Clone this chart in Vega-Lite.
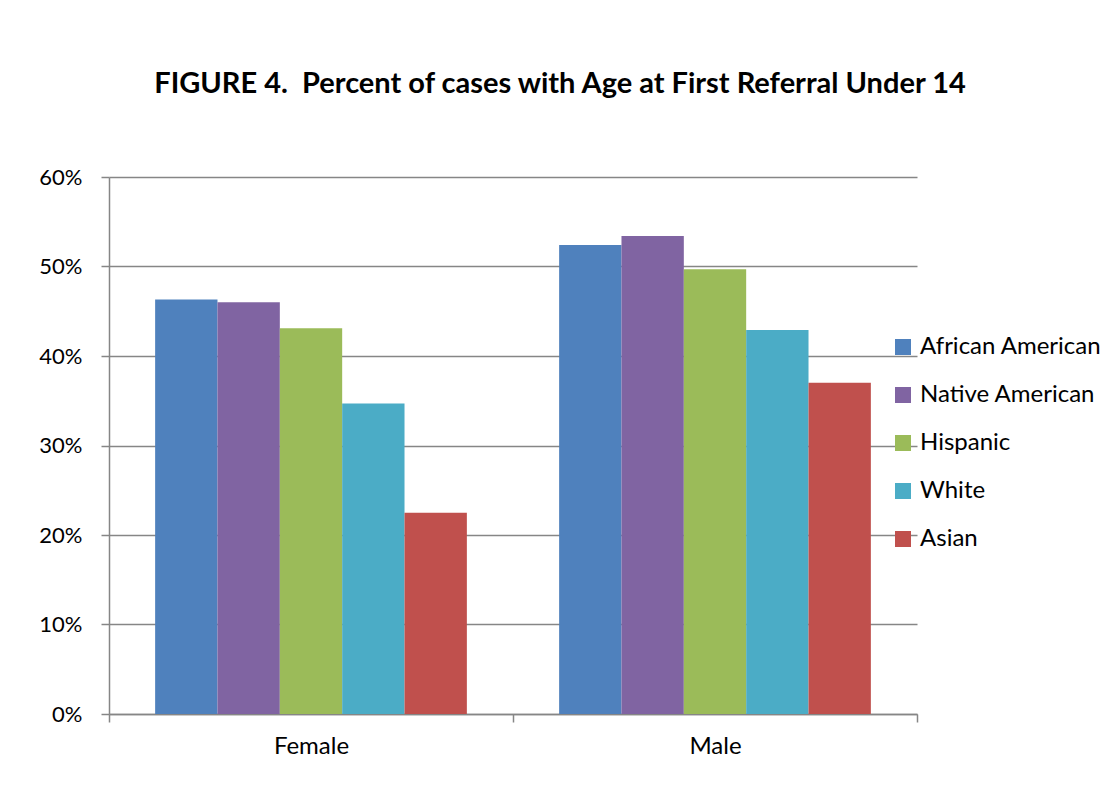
{
  "$schema": "https://vega.github.io/schema/vega-lite/v6.json",
  "autosize": "none",
  "width": 808,
  "height": 537,
  "padding": {"left": 109, "top": 177, "right": 184, "bottom": 98},
  "background": "white",
  "title": {
    "text": "FIGURE 4.\u00a0 Percent of cases with Age at First Referral Under 14",
    "anchor": "middle",
    "frame": "group",
    "dx": 47,
    "offset": 44,
    "baseline": "alphabetic",
    "font": "Lato",
    "fontSize": 29,
    "fontWeight": "bold",
    "color": "#000000"
  },
  "data": {
    "values": [
      {"gender": "Female", "group": "African American", "pct": 0.463},
      {"gender": "Female", "group": "Native American", "pct": 0.460},
      {"gender": "Female", "group": "Hispanic", "pct": 0.431},
      {"gender": "Female", "group": "White", "pct": 0.347},
      {"gender": "Female", "group": "Asian", "pct": 0.225},
      {"gender": "Male", "group": "African American", "pct": 0.524},
      {"gender": "Male", "group": "Native American", "pct": 0.534},
      {"gender": "Male", "group": "Hispanic", "pct": 0.497},
      {"gender": "Male", "group": "White", "pct": 0.429},
      {"gender": "Male", "group": "Asian", "pct": 0.370}
    ]
  },
  "mark": {"type": "bar"},
  "encoding": {
    "x": {
      "field": "gender",
      "type": "nominal",
      "sort": ["Female", "Male"],
      "scale": {"paddingInner": 0, "paddingOuter": 0},
      "axis": {
        "title": null,
        "labelAngle": 0,
        "tickBand": "extent",
        "tickSize": 8,
        "labelPadding": 12,
        "labelFontSize": 24,
        "grid": false
      }
    },
    "xOffset": {
      "field": "group",
      "type": "nominal",
      "sort": ["African American", "Native American", "Hispanic", "White", "Asian"],
      "scale": {"paddingInner": 0, "paddingOuter": 0.74}
    },
    "y": {
      "field": "pct",
      "type": "quantitative",
      "scale": {"domain": [0, 0.6], "nice": false},
      "axis": {
        "title": null,
        "values": [0, 0.1, 0.2, 0.3, 0.4, 0.5, 0.6],
        "format": ".0%",
        "tickSize": 8,
        "labelPadding": 19,
        "labelFontSize": 22,
        "grid": true
      }
    },
    "color": {
      "field": "group",
      "type": "nominal",
      "sort": ["African American", "Native American", "Hispanic", "White", "Asian"],
      "scale": {
        "domain": ["African American", "Native American", "Hispanic", "White", "Asian"],
        "range": ["#4F81BD", "#8064A2", "#9BBB59", "#4BACC6", "#C0504D"]
      },
      "legend": {
        "title": null,
        "orient": "none",
        "legendX": 782,
        "legendY": 158,
        "symbolType": "square",
        "symbolSize": 256,
        "symbolStrokeWidth": 0,
        "labelFontSize": 24,
        "labelOffset": 5,
        "rowPadding": 24
      }
    }
  },
  "config": {
    "font": "Lato",
    "view": {"stroke": null},
    "axis": {
      "labelFont": "Lato",
      "labelColor": "#000000",
      "domainColor": "#868686",
      "domainWidth": 1.5,
      "tickColor": "#868686",
      "tickWidth": 1.5,
      "gridColor": "#868686",
      "gridWidth": 1.3
    },
    "legend": {
      "labelFont": "Lato",
      "labelColor": "#000000",
      "labelLimit": 300
    }
  }
}
